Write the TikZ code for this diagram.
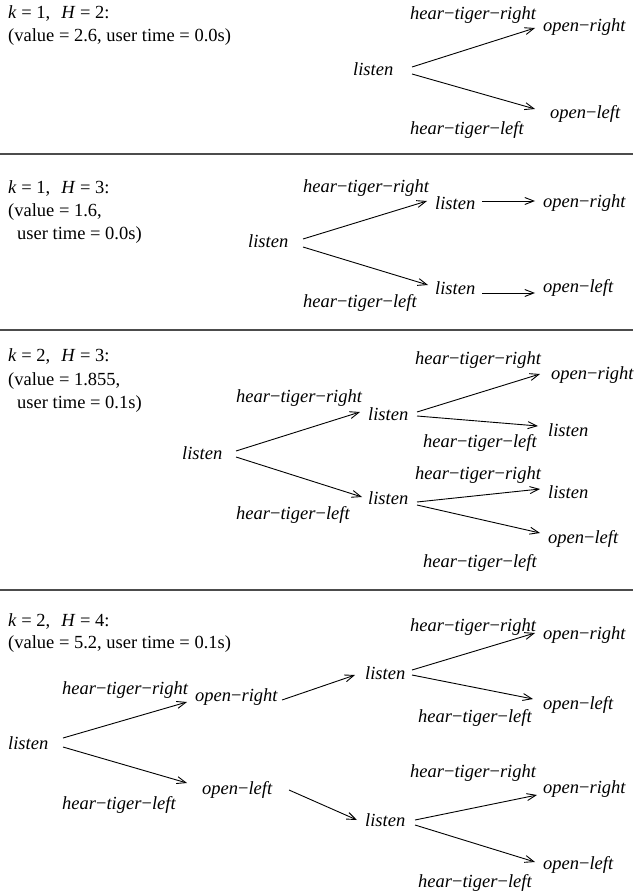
\documentclass[tikz,border=0pt]{standalone}
\usepackage{fontspec}
\setmainfont{Liberation Serif}
\usetikzlibrary{arrows.meta}
\newcommand{\mn}{\textup{−}}
\newcommand{\tgR}{hear\mn tiger\mn right}
\newcommand{\tgL}{hear\mn tiger\mn left}
\newcommand{\opR}{open\mn right}
\newcommand{\opL}{open\mn left}
\newcommand{\kH}[2]{\textit{k} = #1,\hspace{0.6em}\textit{H} = #2:}
\begin{document}
\begin{tikzpicture}[x=1pt, y=-1pt,
  lab/.style={font=\fontsize{18.5}{22}\selectfont\itshape, inner sep=0pt, anchor=west},
  ttl/.style={font=\fontsize{18.5}{23}\selectfont, inner sep=0pt, anchor=west},
  arr/.style={-{Straight Barb[length=9pt,width=7pt]}, line width=0.9pt},
  sepline/.style={line width=1.3pt, draw=black!70}]
\useasboundingbox (0,0) rectangle (633,893);
% separators
\draw[sepline] (0,154) -- (633,154);
\draw[sepline] (0,330) -- (633,330);
\draw[sepline] (0,590) -- (633,590);

% ---------------- panel 1
\node[ttl] (t1a) at (8,14) {\kH{1}{2}};
\node[ttl] (t1b) at (8,37) {(value = 2.6, user time = 0.0s)};
\node[lab] (a1) at (353,69) {listen};
\node[lab] (b1) at (410,15) {\tgR};
\node[lab] (c1) at (543,27) {\opR};
\node[lab] (d1) at (550,114) {\opL};
\node[lab] (e1) at (410,130) {\tgL};
\draw[arr] ([shift={(59,-2)}]a1.west) -- ([shift={(-8,1)}]c1.west);
\draw[arr] ([shift={(59,5)}]a1.west) -- ([shift={(-15,-5)}]d1.west);

% ---------------- panel 2
\node[ttl] (t2a) at (8,189) {\kH{1}{3}};
\node[ttl] (t2b) at (8,212) {(value = 1.6,};
\node[ttl] (t2c) at (17,235) {user time = 0.0s)};
\node[lab] (r2) at (248,241) {listen};
\node[lab] (h2a) at (303,188) {\tgR};
\node[lab] (h2b) at (303,303) {\tgL};
\node[lab] (u2) at (435,203) {listen};
\node[lab] (w2) at (435,288) {listen};
\node[lab] (o2) at (543,203) {\opR};
\node[lab] (q2) at (543,288) {\opL};
\draw[arr] ([shift={(55,-2)}]r2.west) -- ([shift={(-8,-2)}]u2.west);
\draw[arr] ([shift={(55,6)}]r2.west) -- ([shift={(-7,-3)}]w2.west);
\draw[arr] ([shift={(47,-2)}]u2.west) -- ([shift={(-8,-2)}]o2.west);
\draw[arr] ([shift={(47,5)}]w2.west) -- ([shift={(-8,5)}]q2.west);

% ---------------- panel 3
\node[ttl] (t3a) at (8,357) {\kH{2}{3}};
\node[ttl] (t3b) at (8,381) {(value = 1.855,};
\node[ttl] (t3c) at (17,404) {user time = 0.1s)};
\node[lab] (r3) at (182,453) {listen};
\node[lab] (h3a) at (236,398) {\tgR};
\node[lab] (h3b) at (236,515) {\tgL};
\node[lab] (u3) at (368,414) {listen};
\node[lab] (w3) at (368,498) {listen};
\node[lab] (h3c) at (415,360) {\tgR};
\node[lab] (o3) at (551,375) {\opR};
\node[lab] (s3) at (548,430) {listen};
\node[lab] (h3d) at (423,443) {\tgL};
\node[lab] (h3e) at (415,475) {\tgR};
\node[lab] (v3) at (548,492) {listen};
\node[lab] (q3) at (548,539) {\opL};
\node[lab] (h3f) at (423,563) {\tgL};
\draw[arr] ([shift={(54,-2)}]r3.west) -- ([shift={(-8,-2)}]u3.west);
\draw[arr] ([shift={(54,4)}]r3.west) -- ([shift={(-6,-1)}]w3.west);
\draw[arr] ([shift={(49,-2)}]u3.west) -- ([shift={(-11,-1)}]o3.west);
\draw[arr] ([shift={(49,2)}]u3.west) -- ([shift={(-10,-4)}]s3.west);
\draw[arr] ([shift={(49,4)}]w3.west) -- ([shift={(-8,-3)}]v3.west);
\draw[arr] ([shift={(49,7)}]w3.west) -- ([shift={(-8,-6)}]q3.west);

% ---------------- panel 4
\node[ttl] (t4a) at (8,621) {\kH{2}{4}};
\node[ttl] (t4b) at (8,644) {(value = 5.2, user time = 0.1s)};
\node[lab] (r4) at (8,743) {listen};
\node[lab] (h4a) at (62,690) {\tgR};
\node[lab] (h4b) at (62,805) {\tgL};
\node[lab] (o4) at (195,697) {\opR};
\node[lab] (q4) at (202,790) {\opL};
\node[lab] (u4) at (365,673) {listen};
\node[lab] (w4) at (365,820) {listen};
\node[lab] (h4c) at (410,627) {\tgR};
\node[lab] (o4a) at (543,635) {\opR};
\node[lab] (q4a) at (543,705) {\opL};
\node[lab] (h4d) at (418,718) {\tgL};
\node[lab] (h4e) at (410,773) {\tgR};
\node[lab] (o4b) at (543,789) {\opR};
\node[lab] (q4b) at (543,865) {\opL};
\node[lab] (h4f) at (418,883) {\tgL};
\draw[arr] ([shift={(55,-5)}]r4.west) -- ([shift={(-8,5)}]o4.west);
\draw[arr] ([shift={(55,4)}]r4.west) -- ([shift={(-15,-7)}]q4.west);
\draw[arr] ([shift={(87,3)}]o4.west) -- ([shift={(-10,2)}]u4.west);
\draw[arr] ([shift={(87,0)}]q4.west) -- ([shift={(-8,0)}]w4.west);
\draw[arr] ([shift={(47,-3)}]u4.west) -- ([shift={(-8,-2)}]o4a.west);
\draw[arr] ([shift={(47,2)}]u4.west) -- ([shift={(-10,-6)}]q4a.west);
\draw[arr] ([shift={(50,0)}]w4.west) -- ([shift={(-6,6)}]o4b.west);
\draw[arr] ([shift={(50,5)}]w4.west) -- ([shift={(-8,-3)}]q4b.west);
\end{tikzpicture}
\end{document}
